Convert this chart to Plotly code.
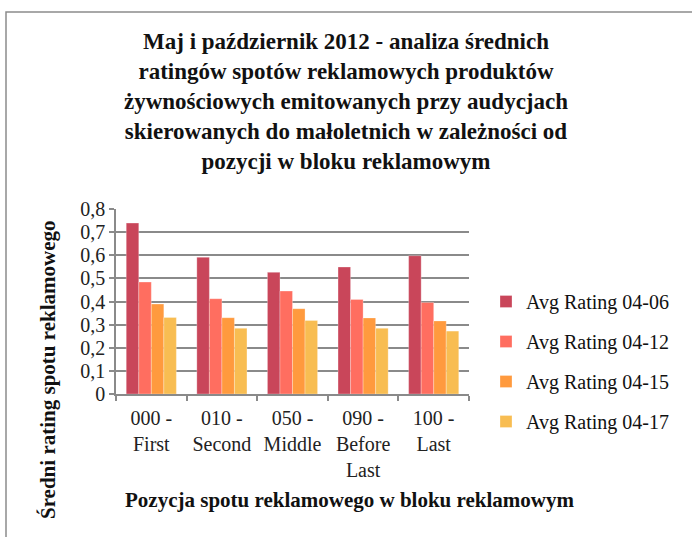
import plotly.graph_objects as go

categories = ["000 -<br>First", "010 -<br>Second", "050 -<br>Middle", "090 -<br>Before<br>Last", "100 -<br>Last"]
series_names = ["Avg Rating 04-06", "Avg Rating 04-12", "Avg Rating 04-15", "Avg Rating 04-17"]
r_04_06 = [0.739, 0.591, 0.526, 0.549, 0.598]
r_04_12 = [0.484, 0.412, 0.445, 0.409, 0.396]
r_04_15 = [0.389, 0.330, 0.369, 0.329, 0.316]
r_04_17 = [0.331, 0.284, 0.318, 0.284, 0.272]
colors = ["#C9465A", "#FF6E60", "#FF9A3E", "#F8BD52"]

title_text = ("Maj i październik 2012 - analiza średnich<br>ratingów spotów reklamowych produktów<br>"
              "żywnościowych emitowanych przy audycjach<br>skierowanych do małoletnich w zależności od<br>"
              "pozycji w bloku reklamowym")
x_title = "Pozycja spotu reklamowego w bloku reklamowym"
y_title = "Średni rating spotu reklamowego"

W, H = 692, 537
L, R, T, B = 116, 469, 209, 394
FONT = "Liberation Serif"

def px_x(x):
    return (x - L) / (R - L)

def px_y(y):
    return (B - y) / (B - T)

fig = go.Figure()
for name, vals, col in zip(series_names, [r_04_06, r_04_12, r_04_15, r_04_17], colors):
    fig.add_trace(go.Bar(
        x=categories, y=vals, name=name, legendgroup=name,
        marker=dict(color=col, line=dict(color="rgba(255,255,255,0.35)", width=0.8)),
    ))

fig.update_layout(
    width=W, height=H,
    margin=dict(l=L, r=W - R, t=T, b=H - B, pad=0),
    paper_bgcolor="white", plot_bgcolor="white",
    separators=", ",
    barmode="group", bargap=0.29, bargroupgap=0,
    font=dict(family=FONT, size=20, color="#222222"),
    title=dict(text="<b>" + title_text + "</b>", x=0.5, xanchor="center",
               y=1 - 49 / H, yanchor="top",
               font=dict(family=FONT, size=23, color="#111111")),
    showlegend=True,
    legend=dict(x=px_x(486), y=px_y(282), xanchor="left", yanchor="top",
                xref="paper", yref="paper",
                font=dict(family=FONT, size=20, color="#111111"),
                tracegroupgap=11, itemwidth=30, bgcolor="rgba(0,0,0,0)"),
    xaxis=dict(showline=True, linecolor="#8a8a8a", linewidth=1.5,
               ticks="outside", tickson="boundaries", ticklen=5, tickcolor="#8a8a8a",
               tickwidth=1.5, showgrid=False, ticklabelstandoff=5,
               tickfont=dict(family=FONT, size=20, color="#222222")),
    yaxis=dict(range=[0, 0.8], dtick=0.1, showline=True, linecolor="#8a8a8a", linewidth=1.5,
               ticks="outside", ticklen=5, tickcolor="#8a8a8a", tickwidth=1.5,
               showgrid=True, gridcolor="#8a8a8a", gridwidth=1.5, zeroline=False,
               tickfont=dict(family=FONT, size=20, color="#222222")),
    annotations=[
        dict(text="<b>" + x_title + "</b>", x=px_x(349), y=px_y(500), xref="paper", yref="paper",
             showarrow=False, xanchor="center", yanchor="middle",
             font=dict(family=FONT, size=21, color="#111111")),
        dict(text="<b>" + y_title + "</b>", x=px_x(48), y=px_y(370), xref="paper", yref="paper",
             showarrow=False, xanchor="center", yanchor="middle", textangle=-90,
             font=dict(family=FONT, size=21, color="#111111")),
    ],
    shapes=[
        dict(type="rect", xref="paper", yref="paper",
             x0=px_x(6), x1=px_x(W + 10), y0=px_y(12), y1=px_y(H + 10),
             line=dict(color="#8c8c8c", width=1.5), fillcolor="rgba(0,0,0,0)", layer="below"),
    ],
)

fig.write_html("out.html", config={"displayModeBar": False},
               post_script="document.body.style.margin='0';document.body.style.overflow='hidden';")
